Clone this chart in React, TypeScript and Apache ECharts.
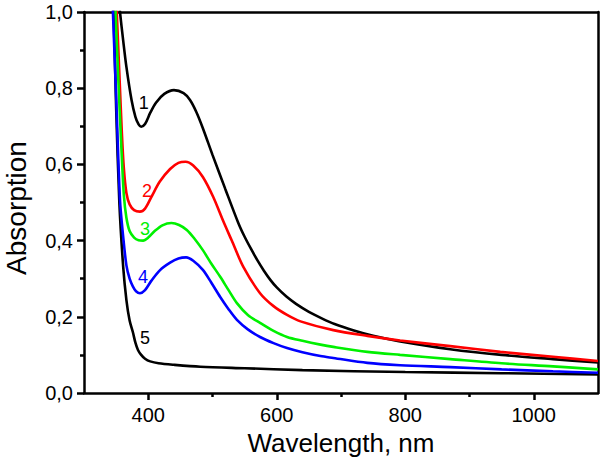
import React, { useEffect, useRef } from "react";
import * as echarts from "echarts";

const curve1: [number, number][] = [
  [350, 1.1], [356, 1.0], [361, 0.925], [366, 0.856], [374, 0.769], [380, 0.725], [385, 0.705], [389, 0.699],
  [395, 0.706], [403, 0.735], [412, 0.762], [425, 0.785], [440, 0.795], [455, 0.787], [465, 0.769],
  [475, 0.737], [485, 0.695], [500, 0.625], [520, 0.535], [540, 0.447], [550, 0.41], [560, 0.378],
  [570, 0.348], [580, 0.321], [590, 0.297], [600, 0.277], [615, 0.253], [630, 0.234], [650, 0.213],
  [670, 0.196], [690, 0.181], [720, 0.164], [750, 0.15], [790, 0.136], [870, 0.115], [950, 0.1],
  [1030, 0.089], [1100, 0.08],
];
const curve2: [number, number][] = [
  [345, 1.25], [351, 1.0], [355, 0.84], [359, 0.68], [362, 0.59], [366, 0.525], [371, 0.495], [378, 0.48],
  [387, 0.476], [395, 0.484], [405, 0.515], [418, 0.555], [434, 0.588], [447, 0.604], [458, 0.607],
  [470, 0.597], [485, 0.567], [501, 0.515], [517, 0.45], [530, 0.4], [548, 0.331], [574, 0.262],
  [595, 0.228], [616, 0.205], [637, 0.188], [688, 0.165], [741, 0.15], [792, 0.138], [870, 0.123],
  [948, 0.108], [1030, 0.095], [1100, 0.084],
];
const curve3: [number, number][] = [
  [343, 1.25], [349, 1.0], [354, 0.8], [358, 0.65], [362, 0.52], [366, 0.46], [371, 0.425], [378, 0.408],
  [385, 0.401], [392, 0.4], [400, 0.408], [410, 0.425], [422, 0.44], [436, 0.446], [448, 0.441],
  [460, 0.428], [472, 0.405], [485, 0.375], [498, 0.34], [512, 0.305], [525, 0.27], [538, 0.236],
  [555, 0.205], [574, 0.184], [595, 0.163], [616, 0.147], [640, 0.137], [668, 0.127], [688, 0.121],
  [741, 0.108], [792, 0.1], [870, 0.089], [950, 0.078], [1030, 0.07], [1100, 0.062],
];
const curve4: [number, number][] = [
  [340, 1.25], [345, 1.0], [350, 0.78], [356, 0.507], [361, 0.41], [366, 0.335], [371, 0.3], [376, 0.28],
  [381, 0.267], [387, 0.262], [395, 0.27], [405, 0.295], [418, 0.322], [434, 0.342], [447, 0.353],
  [459, 0.356], [470, 0.347], [485, 0.323], [498, 0.29], [512, 0.252], [525, 0.22], [538, 0.192],
  [555, 0.167], [574, 0.147], [595, 0.131], [616, 0.118], [640, 0.107], [668, 0.097], [688, 0.092],
  [741, 0.079], [792, 0.073], [870, 0.068], [950, 0.062], [1030, 0.057], [1100, 0.053],
];
const curve5: [number, number][] = [
  [340, 1.25], [346, 1.0], [350, 0.75], [355, 0.5], [361, 0.331], [366, 0.244], [371, 0.19], [376, 0.16],
  [380, 0.132], [384, 0.113], [389, 0.1], [395, 0.09], [403, 0.083], [416, 0.078], [440, 0.074],
  [481, 0.069], [550, 0.065], [640, 0.06], [800, 0.055], [950, 0.052], [1100, 0.049],
];

const curveNames = ["1", "2", "3", "4", "5"];
const curveColors = ["#000000", "#ff0000", "#00f000", "#0000ff", "#000000"];
const labelCoords: [number, number][] = [
  [393, 0.76], [398, 0.53], [395, 0.43], [392, 0.305], [395, 0.145],
];

const xMajorTicks = [400, 600, 800, 1000];
const xMinorTicks = [500, 700, 900];

const FONT = "Arial, 'Liberation Sans', Helvetica, sans-serif";

export default function App() {
  const ref = useRef<HTMLDivElement>(null);
  useEffect(() => {
    if (!ref.current) return;
    const chart = echarts.init(ref.current, null, { renderer: "svg" });
    const curves = [curve1, curve2, curve3, curve4, curve5];
    const order = [4, 0, 1, 2, 3];
    const series = order.map((i) => ({
      type: "line",
      name: curveNames[i],
      data: curves[i],
      showSymbol: false,
      symbol: "none",
      smooth: 0.3,
      clip: true,
      lineStyle: { color: curveColors[i], width: 2.6 },
      markPoint: {
        symbol: "circle",
        symbolSize: 0,
        label: {
          show: true,
          position: "inside",
          formatter: curveNames[i],
          color: curveColors[i],
          fontSize: 18,
          fontFamily: FONT,
        },
        data: [{ coord: labelCoords[i] }],
      },
    }));
    const lineStyle = { color: "#000", width: 2.5 };
    chart.setOption({
      animation: false,
      grid: { left: 84, right: 2, top: 12, bottom: 68, containLabel: false, outerBoundsMode: "none" },
      xAxis: [
        {
          type: "value",
          min: 300,
          max: 1100,
          position: "bottom",
          name: "Wavelength, nm",
          nameLocation: "middle",
          nameGap: 37,
          nameTextStyle: { fontSize: 26, color: "#000", fontFamily: FONT },
          axisLine: { show: true, lineStyle },
          axisTick: { show: true, customValues: xMajorTicks, length: 7, lineStyle: { color: "#000", width: 2.5 } },
          axisLabel: {
            customValues: xMajorTicks,
            margin: 12,
            fontSize: 20,
            color: "#000",
            fontFamily: FONT,
            formatter: (v: number) => String(v),
          },
          splitLine: { show: false },
        },
        {
          type: "value",
          min: 300,
          max: 1100,
          position: "bottom",
          axisLine: { show: false },
          axisTick: { show: true, customValues: xMinorTicks, length: 4, lineStyle: { color: "#000", width: 2.5 } },
          axisLabel: { show: false },
          splitLine: { show: false },
        },
        {
          type: "value",
          min: 300,
          max: 1100,
          position: "top",
          axisLine: { show: true, lineStyle },
          axisTick: { show: false },
          axisLabel: { show: false },
          splitLine: { show: false },
        },
      ],
      yAxis: [
        {
          type: "value",
          min: 0,
          max: 1,
          interval: 0.2,
          position: "left",
          name: "Absorption",
          nameLocation: "middle",
          nameGap: 54,
          nameTextStyle: { fontSize: 28, color: "#000", fontFamily: FONT, padding: [0, 11, 0, 0] },
          axisLine: { show: true, lineStyle },
          axisTick: { show: true, length: 7, lineStyle: { color: "#000", width: 2.5 } },
          minorTick: { show: true, splitNumber: 2, length: 4, lineStyle: { color: "#000", width: 2.5 } },
          axisLabel: {
            margin: 11,
            fontSize: 20,
            color: "#000",
            fontFamily: FONT,
            formatter: (v: number) => v.toFixed(1).replace(".", ","),
          },
          splitLine: { show: false },
        },
        {
          type: "value",
          min: 0,
          max: 1,
          position: "right",
          axisLine: { show: true, lineStyle },
          axisTick: { show: false },
          axisLabel: { show: false },
          splitLine: { show: false },
        },
      ],
      series,
    });
    return () => chart.dispose();
  }, []);
  return <div ref={ref} style={{ width: 600, height: 461, position: "absolute", left: 0, top: 0 }} />;
}
